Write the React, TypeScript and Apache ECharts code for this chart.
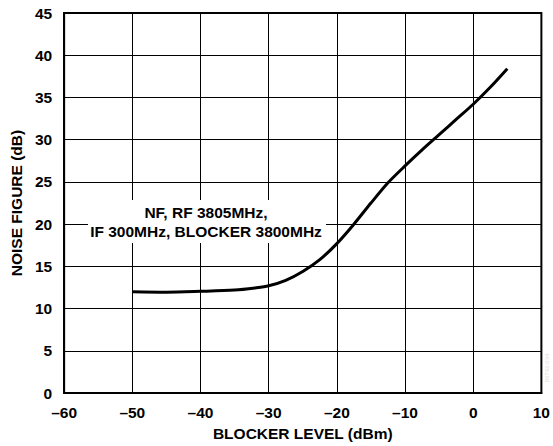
import React, { useEffect, useRef } from "react";
import * as echarts from "echarts";

const blockerLevel = [-50, -45, -40, -35, -32, -30, -27.5, -25, -22.5, -20, -17.5, -15, -12.5, -10, -7.5, -5, -2.5, 0, 2.5, 5];
const noiseFigure = [12.0, 11.95, 12.05, 12.2, 12.45, 12.7, 13.35, 14.4, 15.8, 17.7, 20.0, 22.5, 24.9, 26.9, 28.8, 30.6, 32.4, 34.2, 36.2, 38.4];
const xTitle = "BLOCKER LEVEL (dBm)";
const yTitle = "NOISE FIGURE (dB)";
const noteLines = ["NF, RF 3805MHz,", "IF 300MHz, BLOCKER 3800MHz"];

const FONT = "'Liberation Sans', Arial, Helvetica, sans-serif";
const FS = 15.5;

export default function App() {
  const ref = useRef<HTMLDivElement>(null);
  useEffect(() => {
    if (!ref.current) return;
    const chart = echarts.init(ref.current, null, { renderer: "svg" });
    const fmt = (v: number) => String(v).replace("-", "\u2013");
    chart.setOption({
      animation: false,
      backgroundColor: "#fff",
      grid: { left: 64, top: 13, right: 11, bottom: 52, show: true, borderColor: "#000", borderWidth: 2, backgroundColor: "transparent" },
      xAxis: {
        type: "value", min: -60, max: 10, interval: 10,
        name: xTitle, nameLocation: "middle", nameGap: 29,
        nameTextStyle: { fontFamily: FONT, fontWeight: "bold", fontSize: FS, color: "#000" },
        axisLine: { show: true, onZero: false, lineStyle: { color: "#000", width: 2 } },
        axisTick: { show: false },
        axisLabel: { formatter: fmt, fontFamily: FONT, fontWeight: "bold", fontSize: FS, color: "#000", margin: 11 },
        splitLine: { show: true, lineStyle: { color: "#000", width: 1 } },
      },
      yAxis: {
        type: "value", min: 0, max: 45, interval: 5,
        name: yTitle, nameLocation: "middle", nameGap: 40, nameRotate: 90,
        nameTextStyle: { fontFamily: FONT, fontWeight: "bold", fontSize: FS, color: "#000" },
        axisLine: { show: true, onZero: false, lineStyle: { color: "#000", width: 2 } },
        axisTick: { show: false },
        axisLabel: { formatter: fmt, fontFamily: FONT, fontWeight: "bold", fontSize: FS, color: "#000", margin: 12 },
        splitLine: { show: true, lineStyle: { color: "#000", width: 1 } },
      },
      series: [
        {
          type: "line",
          data: blockerLevel.map((x, i) => [x, noiseFigure[i]]),
          smooth: 0.3,
          symbol: "none",
          lineStyle: { color: "#000", width: 3 },
          z: 5,
        },
      ],
      graphic: [
        { type: "rect", left: 88, top: 200, shape: { width: 238, height: 43 }, style: { fill: "#fff" }, z: 10 },
        {
          type: "text", x: 206, y: 222, z: 11,
          style: {
            text: noteLines.join("\n"), fontFamily: FONT, fontWeight: "bold", fontSize: FS, fill: "#000",
            align: "center", verticalAlign: "middle", lineHeight: 19,
          },
        },
        {
          type: "text", x: 547, y: 368, rotation: Math.PI / 2, z: 11,
          style: { text: "06742-034", fontFamily: FONT, fontSize: 6, fill: "#ddd", align: "center", verticalAlign: "middle" },
        },
      ],
    });
    return () => chart.dispose();
  }, []);
  return <div ref={ref} style={{ position: "fixed", left: 0, top: 0, width: 553, height: 446 }} />;
}
